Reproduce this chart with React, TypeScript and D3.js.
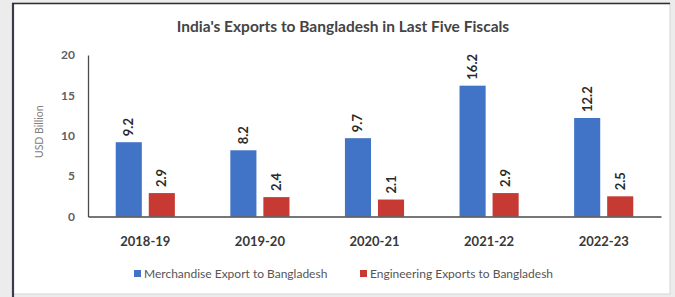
import React, { useEffect, useRef } from "react";
import * as d3 from "d3";

const categories = ["2018-19", "2019-20", "2020-21", "2021-22", "2022-23"];
const merchandise = [9.2, 8.2, 9.7, 16.2, 12.2];
const engineering = [2.9, 2.4, 2.1, 2.9, 2.5];
const seriesNames = ["Merchandise Export to Bangladesh", "Engineering Exports to Bangladesh"];
const seriesColors = ["#4174c6", "#c73a33"];
const yTicks = [0, 5, 10, 15, 20];

const W = 675;
const H = 297;
const FONT = "Lato, 'Open Sans', sans-serif";

const App = () => {
  const svgRef = useRef<SVGSVGElement>(null);

  useEffect(() => {
    const svg = d3.select(svgRef.current);
    svg.selectAll("*").remove();

    // page background and framed panel
    svg.append("rect").attr("width", W).attr("height", H).attr("fill", "#ececec");
    svg.append("rect").attr("x", 13).attr("y", 3).attr("width", 657).attr("height", 291)
      .attr("fill", "#fff").attr("stroke", "#d4d4d4");
    svg.append("line").attr("x1", 13).attr("x2", 13).attr("y1", 3).attr("y2", H)
      .attr("stroke", "#3d3a4c").attr("stroke-width", 2.2);
    svg.append("line").attr("x1", 12).attr("x2", 670).attr("y1", 3.5).attr("y2", 3.5)
      .attr("stroke", "#2e2c38").attr("stroke-width", 1.6);

    const left = 88, right = 661, top = 55, bottom = 216.5;

    const x0 = d3.scaleBand().domain(categories).range([left, right])
      .paddingInner(0.484).paddingOuter(0.242);
    const x1 = d3.scaleBand().domain(seriesNames).range([0, x0.bandwidth()]).paddingInner(0.21);
    const y = d3.scaleLinear().domain([0, 20]).range([bottom, top]);

    // title
    svg.append("text").attr("x", 343).attr("y", 32).attr("text-anchor", "middle")
      .attr("font-family", FONT).attr("font-weight", 700).attr("font-size", 15.5)
      .attr("fill", "#444").text("India's Exports to Bangladesh in Last Five Fiscals");

    // y axis
    const gy = svg.append("g").attr("transform", `translate(${left},0)`)
      .call(d3.axisLeft(y).tickValues(yTicks).tickSize(0).tickPadding(13));
    gy.select(".domain").attr("stroke", "#4a4a4a").attr("stroke-width", 1.3);
    gy.selectAll("text").attr("font-family", FONT).attr("font-weight", 700)
      .attr("font-size", 12).attr("fill", "#5f5f5f");

    svg.append("text")
      .attr("transform", `translate(43,${(top + bottom) / 2 - 4}) rotate(-90)`)
      .attr("text-anchor", "middle").attr("font-family", FONT).attr("font-size", 10.5)
      .attr("fill", "#808080").text("USD Billion");

    // bars
    const rows = categories.map((c, i) => ({ c, vals: [merchandise[i], engineering[i]] }));
    const groups = svg.selectAll("g.grp").data(rows).enter().append("g")
      .attr("class", "grp").attr("transform", (d) => `translate(${x0(d.c)},0)`);

    groups.selectAll("rect").data((d) => d.vals).enter().append("rect")
      .attr("x", (_, j) => x1(seriesNames[j])!)
      .attr("y", (v) => y(v))
      .attr("width", x1.bandwidth())
      .attr("height", (v) => y(0) - y(v))
      .attr("fill", (_, j) => seriesColors[j]);

    groups.selectAll("text.lbl").data((d) => d.vals).enter().append("text")
      .attr("class", "lbl")
      .attr("transform", (v, j) =>
        `translate(${x1(seriesNames[j])! + x1.bandwidth() / 2 + 4.5},${y(v) - 6}) rotate(-90)`)
      .attr("font-family", FONT).attr("font-weight", 700).attr("font-size", 13)
      .attr("fill", "#2a2a2a").text((v) => v.toFixed(1));

    // x axis
    const gx = svg.append("g").attr("transform", `translate(0,${bottom})`)
      .call(d3.axisBottom(x0).tickSize(0).tickPadding(20).tickSizeOuter(0));
    gx.select(".domain").attr("stroke", "#4a4a4a").attr("stroke-width", 1.3);
    gx.selectAll("text").attr("font-family", FONT).attr("font-weight", 700)
      .attr("font-size", 13).attr("fill", "#383838");

    // legend
    const legendX = [134, 360];
    const lg = svg.append("g");
    seriesNames.forEach((name, i) => {
      lg.append("rect").attr("x", legendX[i]).attr("y", 270).attr("width", 7).attr("height", 7)
        .attr("fill", seriesColors[i]);
      lg.append("text").attr("x", legendX[i] + 10).attr("y", 277.5)
        .attr("font-family", FONT).attr("font-size", 12).attr("fill", "#555").text(name);
    });
  }, []);

  return (
    <div style={{ position: "fixed", left: 0, top: 0 }}>
      <svg ref={svgRef} width={W} height={H} style={{ display: "block" }} />
    </div>
  );
};

export default App;
